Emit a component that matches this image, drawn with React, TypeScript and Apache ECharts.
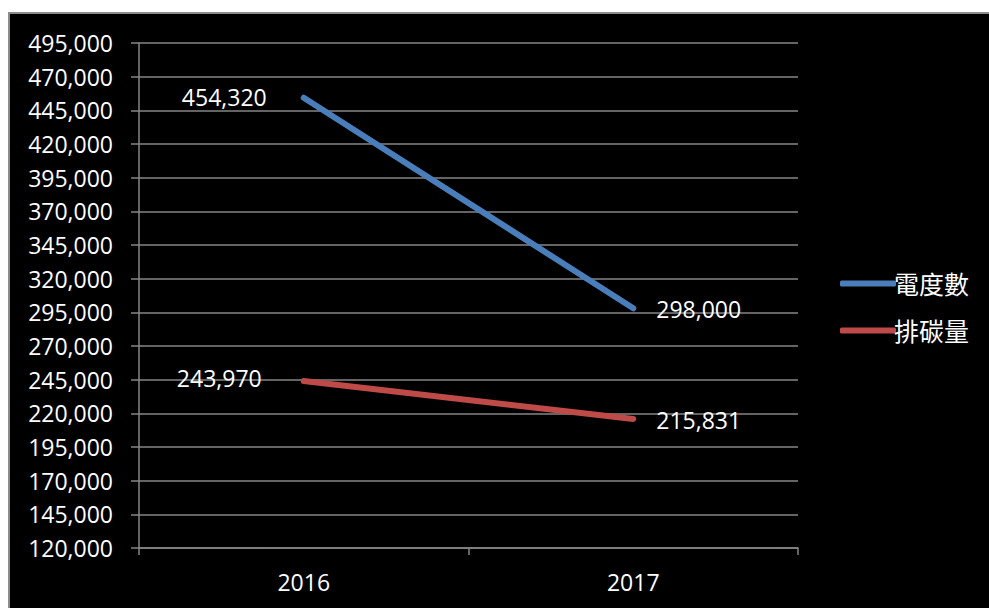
import React, { useEffect, useRef } from "react";
import * as echarts from "echarts";

const categories = ["2016", "2017"];
const electricity = [454320, 298000];
const carbon = [243970, 215831];
const seriesNames = ["電度數", "排碳量"];
const yTicks = [120000, 145000, 170000, 195000, 220000, 245000, 270000, 295000, 320000, 345000, 370000, 395000, 420000, 445000, 470000, 495000];

const FONT = "'Open Sans', 'Noto Sans CJK TC', sans-serif";

export default function App() {
  const ref = useRef<HTMLDivElement>(null);
  useEffect(() => {
    document.body.style.margin = "0";
    const chart = echarts.init(ref.current!, null, { renderer: "svg" });
    const fmt = (v: number) => v.toLocaleString("en-US");
    const mkData = (vals: number[], leftDist: number, leftDy: number) =>
      vals.map((v, i) => ({
        value: v,
        label:
          i === 0
            ? { position: "left", distance: leftDist, offset: [0, leftDy] }
            : { position: "right", distance: 23, offset: [0, 1] },
      }));
    const labelStyle = { show: true, color: "#fff", fontSize: 23, fontFamily: FONT, formatter: (p: any) => fmt(p.value) };
    chart.setOption({
      animation: false,
      backgroundColor: "#000",
      grid: { left: 129, top: 29, right: 191, bottom: 60 },
      legend: {
        orient: "vertical",
        left: 825,
        top: 252,
        itemGap: 22,
        itemWidth: 56,
        itemHeight: 6,
        icon: "roundRect",
        textStyle: { color: "#fff", fontSize: 25, fontFamily: FONT, padding: [0, 0, 0, -7] },
        data: seriesNames,
      },
      xAxis: {
        type: "category",
        data: categories,
        boundaryGap: true,
        axisLine: { lineStyle: { color: "#868686", width: 1.5 } },
        axisTick: { show: true, length: 7, inside: false, lineStyle: { color: "#868686", width: 1.5 } },
        axisLabel: { color: "#fff", fontSize: 23, fontFamily: FONT, margin: 22 },
      },
      yAxis: {
        type: "value",
        min: 120000,
        max: 495000,
        axisLine: { show: true, lineStyle: { color: "#868686", width: 1.5 } },
        axisTick: { show: true, length: 8, customValues: yTicks, lineStyle: { color: "#868686", width: 1.5 } },
        axisLabel: { color: "#fff", fontSize: 23, fontFamily: FONT, margin: 26, customValues: yTicks, formatter: (v: number) => fmt(v) },
        splitLine: { show: true, lineStyle: { color: "#868686", width: 1.5 } },
      },
      series: [
        {
          name: seriesNames[0],
          type: "line",
          data: mkData(electricity, 37, -1),
          showSymbol: true,
          symbol: "circle",
          symbolSize: 0.1,
          lineStyle: { color: "#4A7EBB", width: 6, cap: "round" },
          itemStyle: { color: "#4A7EBB" },
          label: labelStyle,
        },
        {
          name: seriesNames[1],
          type: "line",
          data: mkData(carbon, 42, -3),
          showSymbol: true,
          symbol: "circle",
          symbolSize: 0.1,
          lineStyle: { color: "#BE4B48", width: 6, cap: "round" },
          itemStyle: { color: "#BE4B48" },
          label: labelStyle,
        },
      ],
    });
    return () => chart.dispose();
  }, []);
  return (
    <div
      style={{
        position: "fixed",
        left: 8,
        top: 12,
        width: 981,
        height: 596,
        boxSizing: "border-box",
        borderTop: "2px solid #8c8c8c",
        borderLeft: "2px solid #8c8c8c",
        background: "#000",
      }}
    >
      <div ref={ref} style={{ width: 979, height: 594 }} />
    </div>
  );
}
